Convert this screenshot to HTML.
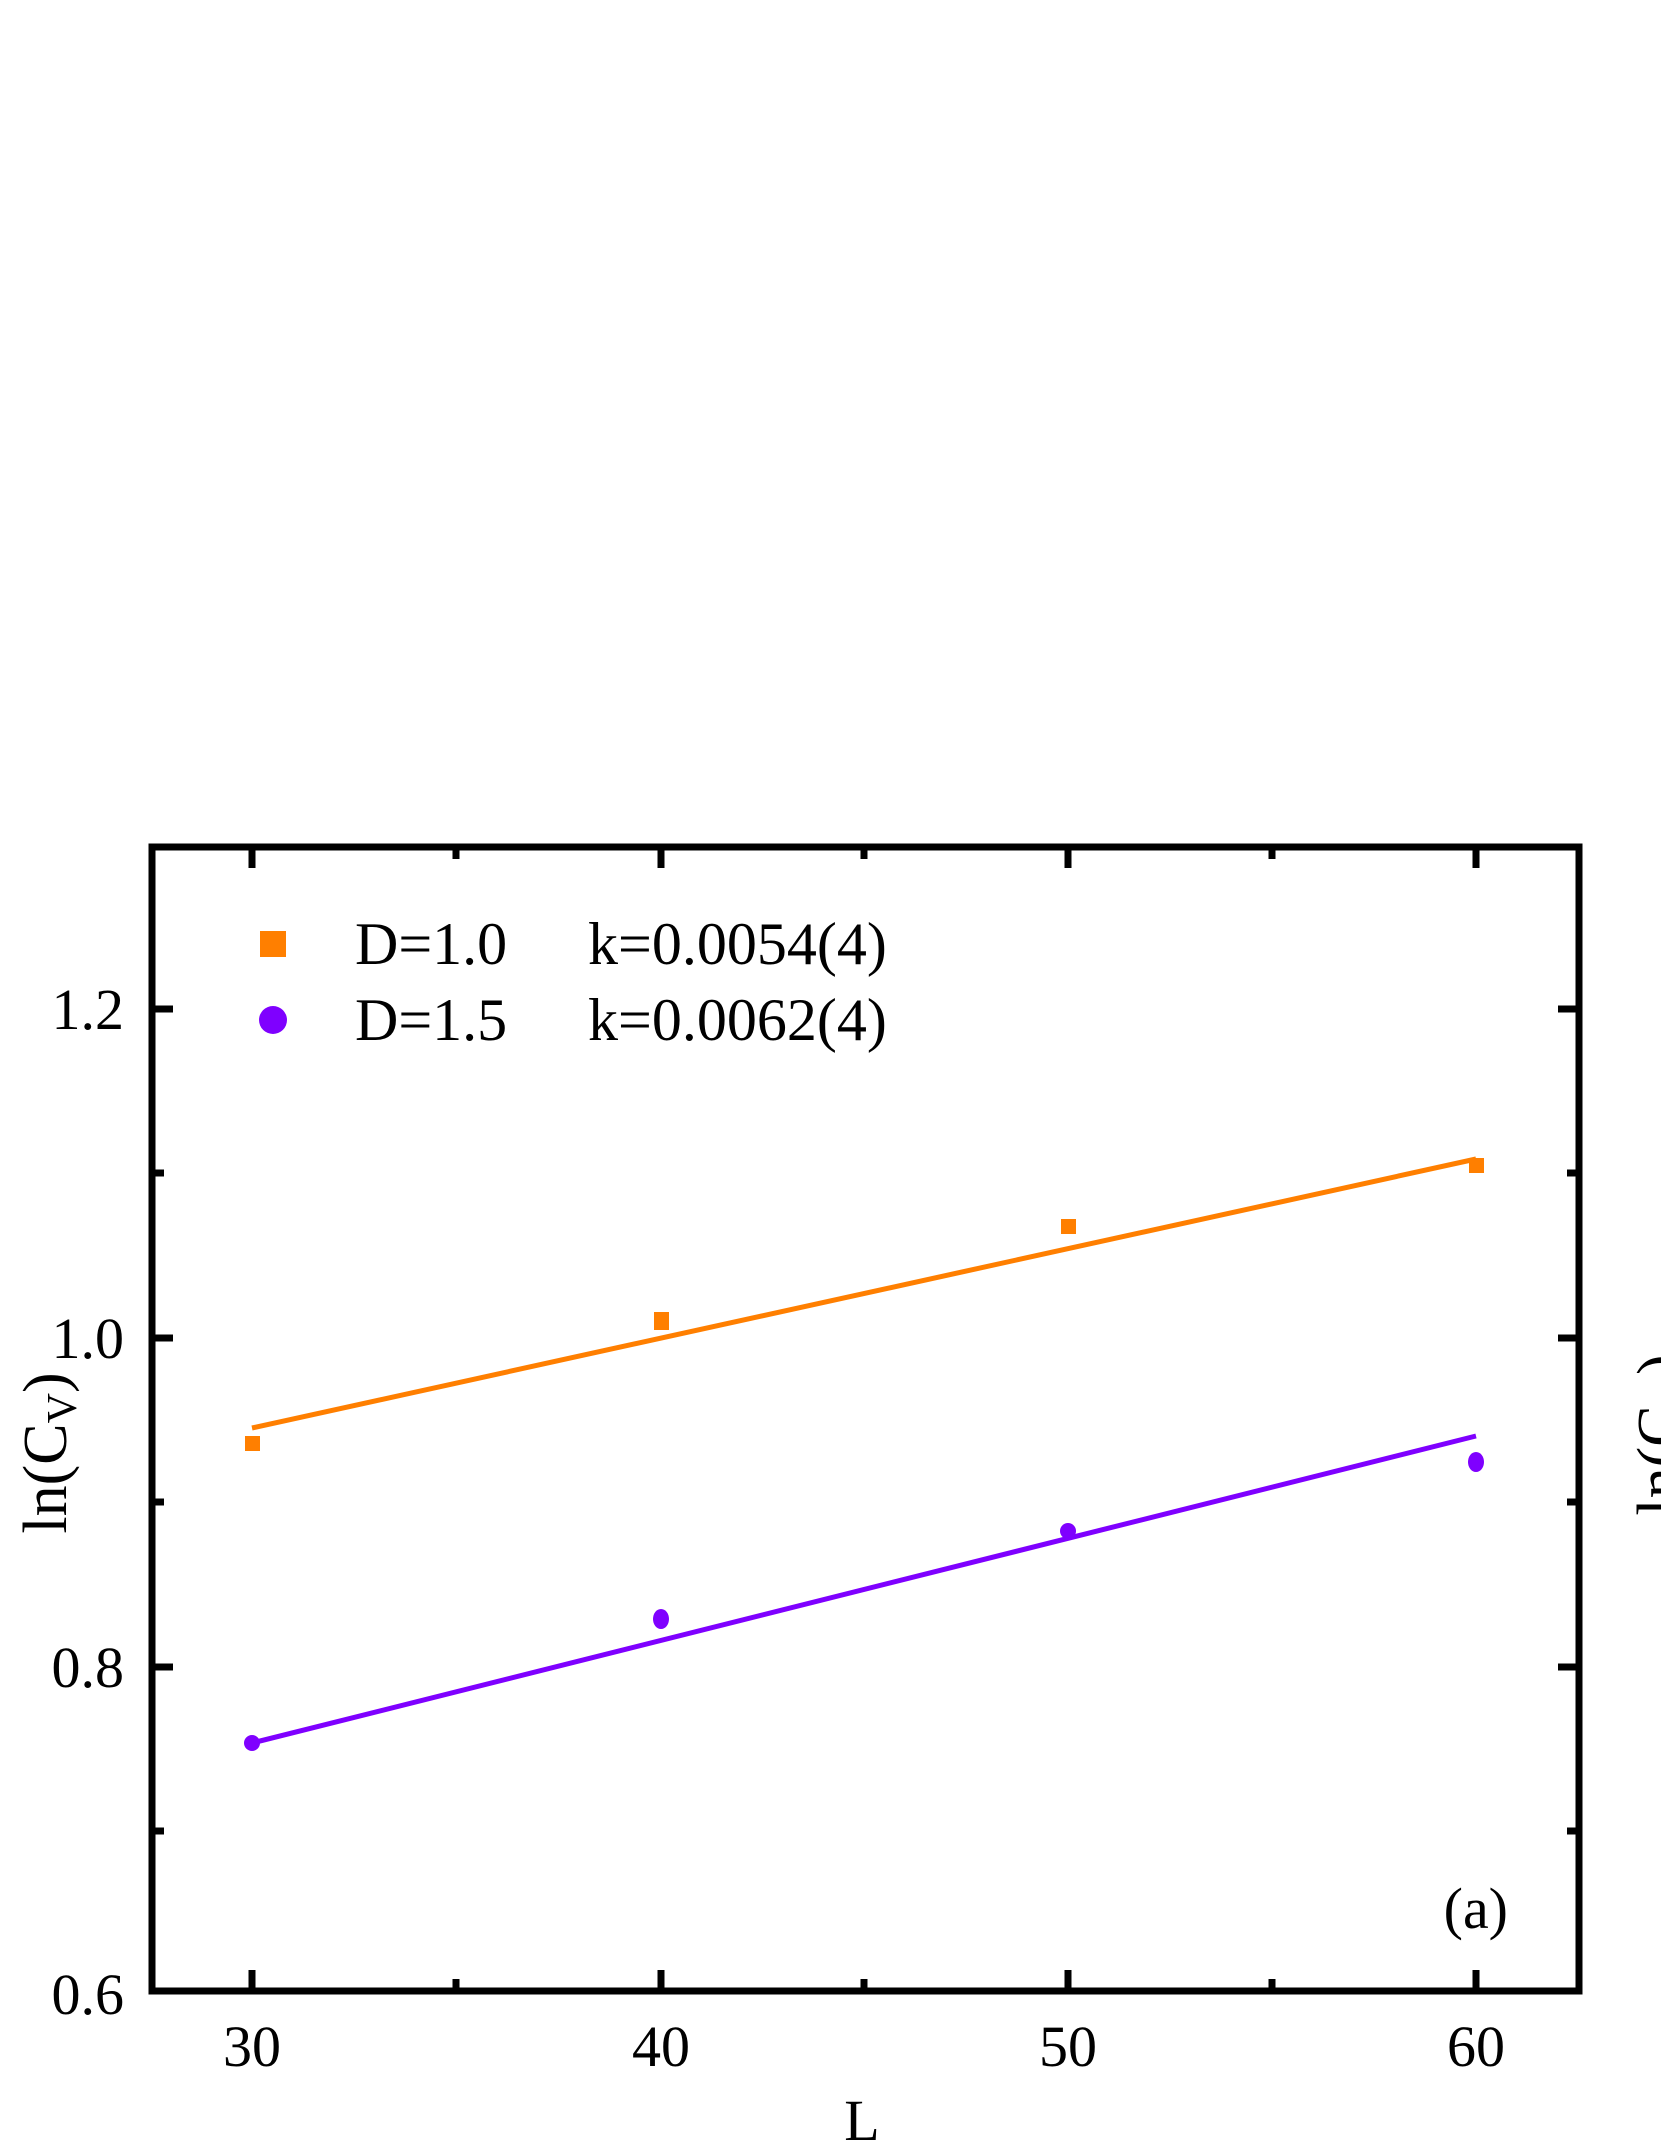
<!DOCTYPE html>
<html><head><style>body{margin:0;background:#fff}svg{display:block}</style></head>
<body>
<svg width="1661" height="2149" viewBox="0 0 1661 2149" xmlns="http://www.w3.org/2000/svg" font-family="Liberation Serif, serif">
<rect width="1661" height="2149" fill="#fff"/>
<line x1="252" y1="1428" x2="1476" y2="1159" stroke="#ff7f00" stroke-width="5"/>
<line x1="252" y1="1743" x2="1476" y2="1436" stroke="#7f00ff" stroke-width="5"/>
<g fill="#ff7f00">
<rect x="245" y="1436" width="15" height="15"/>
<rect x="654" y="1312" width="15" height="18"/>
<rect x="1061" y="1219" width="15" height="15"/>
<rect x="1469" y="1158" width="15" height="15"/>
</g>
<g fill="#7f00ff">
<ellipse cx="252" cy="1743" rx="8" ry="8"/>
<ellipse cx="661" cy="1619" rx="8" ry="10"/>
<ellipse cx="1068" cy="1531" rx="8" ry="8"/>
<ellipse cx="1476" cy="1462" rx="8" ry="10"/>
</g>
<rect x="152" y="847" width="1427" height="1144" fill="none" stroke="#000" stroke-width="7"/>
<g stroke="#000" stroke-width="7">
<line x1="252" y1="1991" x2="252" y2="1970"/><line x1="661" y1="1991" x2="661" y2="1970"/><line x1="1068" y1="1991" x2="1068" y2="1970"/><line x1="1476" y1="1991" x2="1476" y2="1970"/>
<line x1="252" y1="847" x2="252" y2="868"/><line x1="661" y1="847" x2="661" y2="868"/><line x1="1068" y1="847" x2="1068" y2="868"/><line x1="1476" y1="847" x2="1476" y2="868"/>
<line x1="456" y1="1991" x2="456" y2="1979"/><line x1="864" y1="1991" x2="864" y2="1979"/><line x1="1272" y1="1991" x2="1272" y2="1979"/>
<line x1="456" y1="847" x2="456" y2="859"/><line x1="864" y1="847" x2="864" y2="859"/><line x1="1272" y1="847" x2="1272" y2="859"/>
<line x1="152" y1="1009" x2="173" y2="1009"/><line x1="152" y1="1338" x2="173" y2="1338"/><line x1="152" y1="1667" x2="173" y2="1667"/>
<line x1="1579" y1="1009" x2="1558" y2="1009"/><line x1="1579" y1="1338" x2="1558" y2="1338"/><line x1="1579" y1="1667" x2="1558" y2="1667"/>
<line x1="152" y1="1173" x2="164" y2="1173"/><line x1="152" y1="1502" x2="164" y2="1502"/><line x1="152" y1="1831" x2="164" y2="1831"/>
<line x1="1579" y1="1173" x2="1567" y2="1173"/><line x1="1579" y1="1502" x2="1567" y2="1502"/><line x1="1579" y1="1831" x2="1567" y2="1831"/>
</g>
<g font-size="58" fill="#000">
<g text-anchor="end">
<text x="124" y="1029">1.2</text><text x="124" y="1358">1.0</text><text x="124" y="1687">0.8</text><text x="124" y="2014">0.6</text>
</g>
<g text-anchor="middle">
<text x="252" y="2066">30</text><text x="661" y="2066">40</text><text x="1068" y="2066">50</text><text x="1476" y="2066">60</text>
<text x="862" y="2140">L</text>
</g>
<text x="1508" y="1928" text-anchor="end">(a)</text>
<text transform="translate(66,1453) rotate(-90)" text-anchor="middle" font-size="62">ln(C<tspan font-size="42" dy="10">V</tspan><tspan dy="-10">)</tspan></text>
<text transform="translate(1680,1435) rotate(-90)" text-anchor="middle" font-size="62">ln(C<tspan font-size="42" dy="10">V</tspan><tspan dy="-10">)</tspan></text>
</g>
<rect x="260" y="931" width="26" height="26" fill="#ff7f00"/>
<circle cx="273" cy="1020" r="14" fill="#7f00ff"/>
<g font-size="60" fill="#000">
<text x="355" y="964">D=1.0</text><text x="588" y="964">k=0.0054(4)</text>
<text x="355" y="1040">D=1.5</text><text x="588" y="1040">k=0.0062(4)</text>
</g>
</svg>
</body></html>
